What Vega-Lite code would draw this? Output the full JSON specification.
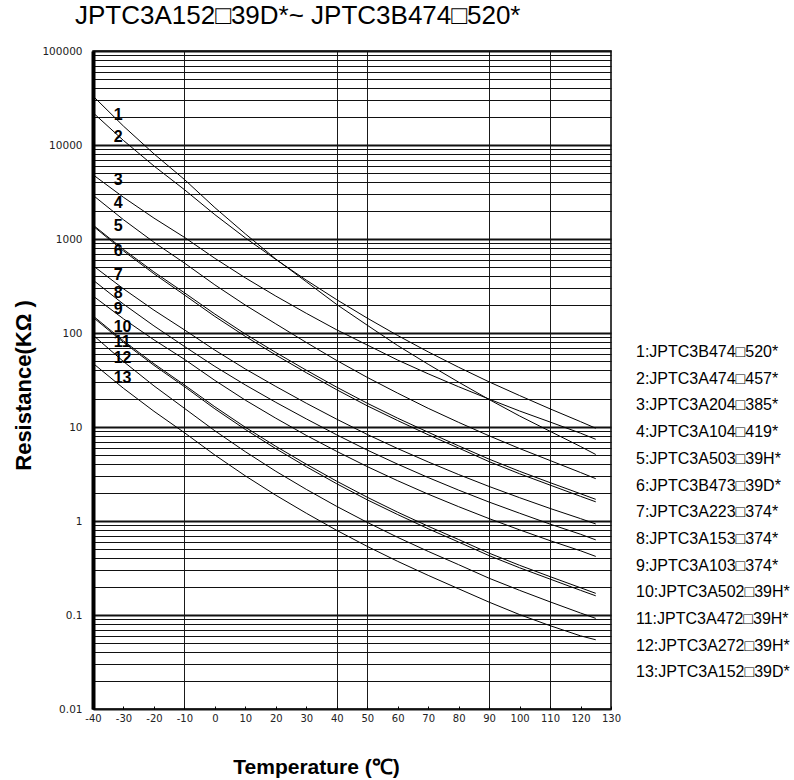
{
  "$schema": "https://vega.github.io/schema/vega-lite/v6.json",
  "autosize": {"type": "none"},
  "padding": {"top": 51, "left": 93, "right": 183, "bottom": 71},
  "width": 518,
  "height": 658,
  "background": "white",
  "config": {"view": {"stroke": "#000", "strokeWidth": 1.5}, "font": "Liberation Sans"},
  "title": {"text": "JPTC3A152□39D*~ JPTC3B474□520*", "anchor": "start", "frame": "group", "dx": -18, "dy": 4, "offset": 0, "baseline": "alphabetic", "fontSize": 26, "font": "Liberation Sans", "fontWeight": "normal", "color": "#000"},
  "resolve": {"axis": {"x": "independent", "y": "independent"}},
  "layer": [
    {
      "data": {"values": [
        {"t": -40, "c1": 33200, "c2": 22070, "c3": 4830, "c4": 2920, "c5": 1410, "c6": 1375, "c7": 520, "c8": 366, "c9": 248, "c10": 152, "c11": 147, "c12": 95, "c13": 47.6},
        {"t": -30, "c1": 15880, "c2": 11170, "c3": 2777, "c4": 1604, "c5": 774, "c6": 747, "c7": 295, "c8": 203, "c9": 141.5, "c10": 82.5, "c11": 79.6, "c12": 49.7, "c13": 25.8},
        {"t": -20, "c1": 8050, "c2": 5980, "c3": 1669, "c4": 924, "c5": 446, "c6": 427, "c7": 175, "c8": 119, "c9": 84.6, "c10": 47.1, "c11": 45.3, "c12": 27.4, "c13": 14.7},
        {"t": -10, "c1": 4300, "c2": 3350, "c3": 1042, "c4": 555, "c5": 268, "c6": 254, "c7": 108, "c8": 72, "c9": 52.5, "c10": 28, "c11": 26.9, "c12": 15.8, "c13": 8.7},
        {"t": 0, "c1": 2156, "c2": 1815, "c3": 623, "c4": 325, "c5": 159, "c6": 150, "c7": 65.7, "c8": 44.1, "c9": 31.3, "c10": 16.4, "c11": 15.6, "c12": 9.11, "c13": 5.03},
        {"t": 10, "c1": 1134, "c2": 1027, "c3": 386, "c4": 198, "c5": 97.5, "c6": 92, "c7": 41.4, "c8": 28, "c9": 19.3, "c10": 9.93, "c11": 9.41, "c12": 5.46, "c13": 3.02},
        {"t": 20, "c1": 612, "c2": 606, "c3": 247, "c4": 125, "c5": 62, "c6": 58.3, "c7": 27, "c8": 18.3, "c9": 12.4, "c10": 6.23, "c11": 5.88, "c12": 3.38, "c13": 1.88},
        {"t": 30, "c1": 351, "c2": 365, "c3": 162, "c4": 79.3, "c5": 40.2, "c6": 37.8, "c7": 17.9, "c8": 12.2, "c9": 8.14, "c10": 4.02, "c11": 3.78, "c12": 2.17, "c13": 1.21},
        {"t": 40, "c1": 201, "c2": 226, "c3": 108, "c4": 51, "c5": 26.5, "c6": 24.9, "c7": 12.1, "c8": 8.25, "c9": 5.5, "c10": 2.65, "c11": 2.49, "c12": 1.43, "c13": 0.795},
        {"t": 50, "c1": 121, "c2": 144, "c3": 74.5, "c4": 33.7, "c5": 17.9, "c6": 16.8, "c7": 8.33, "c8": 5.68, "c9": 3.79, "c10": 1.79, "c11": 1.68, "c12": 0.967, "c13": 0.537},
        {"t": 60, "c1": 73.5, "c2": 94, "c3": 51.5, "c4": 22.9, "c5": 12.4, "c6": 11.7, "c7": 5.89, "c8": 4.02, "c9": 2.68, "c10": 1.24, "c11": 1.17, "c12": 0.67, "c13": 0.372},
        {"t": 70, "c1": 46.5, "c2": 63, "c3": 36.8, "c4": 15.8, "c5": 8.8, "c6": 8.27, "c7": 4.25, "c8": 2.9, "c9": 1.93, "c10": 0.88, "c11": 0.827, "c12": 0.475, "c13": 0.264},
        {"t": 80, "c1": 30, "c2": 43.2, "c3": 26.8, "c4": 11.2, "c5": 6.3, "c6": 5.97, "c7": 3.12, "c8": 2.13, "c9": 1.42, "c10": 0.635, "c11": 0.597, "c12": 0.343, "c13": 0.19},
        {"t": 90, "c1": 19.6, "c2": 30.2, "c3": 19.8, "c4": 8.05, "c5": 4.55, "c6": 4.28, "c7": 2.33, "c8": 1.59, "c9": 1.06, "c10": 0.455, "c11": 0.428, "c12": 0.246, "c13": 0.137},
        {"t": 100, "c1": 13.1, "c2": 21.6, "c3": 14.8, "c4": 5.9, "c5": 3.38, "c6": 3.18, "c7": 1.77, "c8": 1.21, "c9": 0.805, "c10": 0.338, "c11": 0.318, "c12": 0.183, "c13": 0.101},
        {"t": 110, "c1": 9.0, "c2": 15.6, "c3": 11.3, "c4": 4.4, "c5": 2.56, "c6": 2.41, "c7": 1.36, "c8": 0.927, "c9": 0.618, "c10": 0.256, "c11": 0.241, "c12": 0.138, "c13": 0.077},
        {"t": 120, "c1": 6.2, "c2": 11.4, "c3": 8.6, "c4": 3.28, "c5": 1.95, "c6": 1.83, "c7": 1.06, "c8": 0.723, "c9": 0.482, "c10": 0.195, "c11": 0.183, "c12": 0.105, "c13": 0.06},
        {"t": 125, "c1": 5.1, "c2": 9.7, "c3": 7.4, "c4": 2.82, "c5": 1.7, "c6": 1.6, "c7": 0.93, "c8": 0.63, "c9": 0.42, "c10": 0.17, "c11": 0.16, "c12": 0.092, "c13": 0.0545}
      ]},
      "transform": [
        {"fold": ["c1", "c2", "c3", "c4", "c5", "c6", "c7", "c8", "c9", "c10", "c11", "c12", "c13"], "as": ["k", "r"]},
        {"lookup": "k", "from": {"data": {"values": [
          {"k": "c1", "s": "1:JPTC3B474□520*"},
          {"k": "c2", "s": "2:JPTC3A474□457*"},
          {"k": "c3", "s": "3:JPTC3A204□385*"},
          {"k": "c4", "s": "4:JPTC3A104□419*"},
          {"k": "c5", "s": "5:JPTC3A503□39H*"},
          {"k": "c6", "s": "6:JPTC3B473□39D*"},
          {"k": "c7", "s": "7:JPTC3A223□374*"},
          {"k": "c8", "s": "8:JPTC3A153□374*"},
          {"k": "c9", "s": "9:JPTC3A103□374*"},
          {"k": "c10", "s": "10:JPTC3A502□39H*"},
          {"k": "c11", "s": "11:JPTC3A472□39H*"},
          {"k": "c12", "s": "12:JPTC3A272□39H*"},
          {"k": "c13", "s": "13:JPTC3A152□39D*"}
        ]}, "key": "k", "fields": ["s"]}}
      ],
      "mark": {"type": "line", "strokeWidth": 1, "clip": true},
      "encoding": {
        "x": {"field": "t", "type": "quantitative",
          "scale": {"domain": [-40, 130], "nice": false, "zero": false},
          "axis": {
            "orient": "bottom",
            "values": [-40, -30, -20, -10, 0, 10, 20, 30, 40, 50, 60, 70, 80, 90, 100, 110, 120, 130],
            "labelExpr": "'' + datum.value",
            "domain": false,
            "grid": true,
            "gridColor": "#1a1a1a",
            "gridWidth": 1,
            "gridOpacity": {"condition": {"test": "indexof([-10, 40, 50, 90, 110], datum.value) >= 0", "value": 1}, "value": 0},
            "ticks": true, "tickSize": -3, "tickColor": "#000", "tickWidth": 1,
            "labelFont": "DejaVu Sans", "labelFontSize": 10, "labelColor": "#222",
            "labelPadding": 7, "labelFlush": false, "labelOverlap": false, "labelBound": false,
            "title": "Temperature (℃)",
            "titleFont": "Liberation Sans", "titleFontSize": 21, "titleFontWeight": "bold", "titleColor": "#000",
            "titleX": 223, "titleY": 64, "titleAlign": "center", "titleBaseline": "alphabetic", "titleAnchor": null
          }
        },
        "y": {"field": "r", "type": "quantitative",
          "scale": {"type": "log", "domain": [0.01, 100000], "nice": false},
          "axis": {
            "orient": "left",
            "values": [0.01, 0.02, 0.03, 0.04, 0.05, 0.06, 0.07, 0.08, 0.09, 0.1, 0.2, 0.3, 0.4, 0.5, 0.6, 0.7, 0.8, 0.9, 1, 2, 3, 4, 5, 6, 7, 8, 9, 10, 20, 30, 40, 50, 60, 70, 80, 90, 100, 200, 300, 400, 500, 600, 700, 800, 900, 1000, 2000, 3000, 4000, 5000, 6000, 7000, 8000, 9000, 10000, 20000, 30000, 40000, 50000, 60000, 70000, 80000, 90000, 100000],
            "grid": true,
            "gridColor": "#111",
            "gridOpacity": 1,
            "gridWidth": {"condition": {"test": "indexof([0.01, 0.1, 1, 10, 100, 1000, 10000, 100000], datum.value) >= 0", "value": 2}, "value": 1},
            "ticks": false,
            "domain": true, "domainColor": "#000", "domainWidth": 4,
            "labelExpr": "indexof([0.01, 0.1, 1, 10, 100, 1000, 10000, 100000], datum.value) >= 0 ? '' + datum.value : ''",
            "labelFont": "DejaVu Sans", "labelFontSize": 10.5, "labelColor": "#222",
            "labelPadding": 11, "labelOverlap": false, "labelBound": false,
            "title": "Resistance(KΩ )",
            "titleFont": "Liberation Sans", "titleFontSize": 22, "titleFontWeight": "bold", "titleColor": "#000",
            "titleAngle": 270, "titleX": -70, "titleY": 334, "titleAlign": "center", "titleBaseline": "middle", "titleAnchor": null
          }
        },
        "color": {"field": "s", "type": "nominal",
          "scale": {"domain": ["1:JPTC3B474□520*", "2:JPTC3A474□457*", "3:JPTC3A204□385*", "4:JPTC3A104□419*", "5:JPTC3A503□39H*", "6:JPTC3B473□39D*", "7:JPTC3A223□374*", "8:JPTC3A153□374*", "9:JPTC3A103□374*", "10:JPTC3A502□39H*", "11:JPTC3A472□39H*", "12:JPTC3A272□39H*", "13:JPTC3A152□39D*"],
            "range": ["#000", "#000", "#000", "#000", "#000", "#000", "#000", "#000", "#000", "#000", "#000", "#000", "#000"]},
          "legend": {"orient": "none", "legendX": 527, "legendY": 293, "title": null,
            "symbolOpacity": 0, "symbolSize": 1, "symbolType": "stroke", "labelOffset": 0,
            "labelFont": "Liberation Sans", "labelFontSize": 16, "labelColor": "#000", "labelLimit": 300,
            "rowPadding": 10.7}
        }
      }
    },
    {
      "data": {"values": [
        {"n": "1", "t": -33.2, "r": 20850},
        {"n": "2", "t": -33.2, "r": 12240},
        {"n": "3", "t": -33.2, "r": 4246},
        {"n": "4", "t": -33.2, "r": 2399},
        {"n": "5", "t": -33.2, "r": 1385},
        {"n": "6", "t": -33.2, "r": 751},
        {"n": "7", "t": -33.2, "r": 414},
        {"n": "8", "t": -33.2, "r": 264},
        {"n": "9", "t": -33.2, "r": 179},
        {"n": "10", "t": -33.2, "r": 117},
        {"n": "11", "t": -33.2, "r": 79.6},
        {"n": "12", "t": -33.2, "r": 54.6},
        {"n": "13", "t": -33.2, "r": 33}
      ]},
      "mark": {"type": "text", "align": "left", "baseline": "middle", "font": "Liberation Sans", "fontWeight": "bold", "fontSize": 16, "color": "#000"},
      "encoding": {
        "x": {"field": "t", "type": "quantitative", "axis": null},
        "y": {"field": "r", "type": "quantitative", "axis": null},
        "text": {"field": "n"}
      }
    }
  ]
}
